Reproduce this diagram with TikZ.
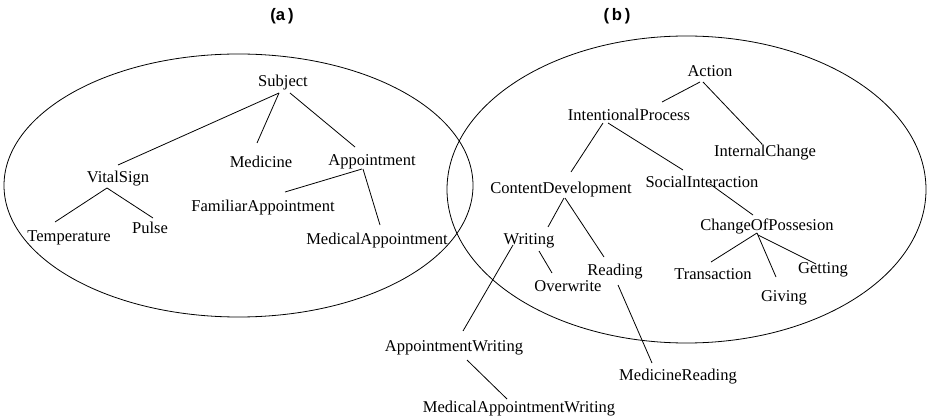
\documentclass[tikz,border=0pt]{standalone}
\usepackage{fontspec}
\setmainfont{Liberation Serif}
\newfontfamily\titlefont{Liberation Sans}
\begin{document}
\begin{tikzpicture}[x=0.75pt,y=-0.75pt,
  concept/.style={inner sep=0pt,font=\fontsize{12.4}{14}\selectfont,text height=8pt,text depth=0pt},
  paneltitle/.style={inner sep=0pt,font=\titlefont\bfseries\fontsize{12.5}{14}\selectfont},
  edge/.style={line width=0.6pt},
  areaoutline/.style={line width=0.6pt}]
\useasboundingbox (0,0) rectangle (931,420);

% panel titles
\node[paneltitle] (ta) at (282,16) {(a\,)};
\node[paneltitle] (tb) at (617,16) {(\,b\,)};

% the two overlapping areas
\draw[areaoutline] (238.5,185.5) ellipse [x radius=234.5, y radius=131.5];
\draw[areaoutline] (686.5,189.5) ellipse [x radius=239.5, y radius=153.5];

% hierarchy (a)
\node[concept] (subject)  at (283,81)  {Subject};
\node[concept] (vital)    at (118,177) {VitalSign};
\node[concept] (medicine) at (261,162) {Medicine};
\node[concept] (appt)     at (372,160) {Appointment};
\node[concept] (famappt)  at (263,206) {FamiliarAppointment};
\node[concept] (medappt)  at (377,239) {MedicalAppointment};
\node[concept] (temp)     at (69,236)  {Temperature};
\node[concept] (pulse)    at (150,228) {Pulse};

% hierarchy (b)
\node[concept] (action)   at (710,71)  {Action};
\node[concept] (intproc)  at (629,115) {IntentionalProcess};
\node[concept] (intchg)   at (765,151) {InternalChange};
\node[concept] (content)  at (561,188) {ContentDevelopment};
\node[concept] (social)   at (702,182) {SocialInteraction};
\node[concept] (possess)  at (767,225) {ChangeOfPossesion};
\node[concept] (writing)  at (529,239) {Writing};
\node[concept] (reading)  at (615,270) {Reading};
\node[concept] (overw)    at (568,286) {Overwrite};
\node[concept] (trans)    at (713,274) {Transaction};
\node[concept] (getting)  at (823,268) {Getting};
\node[concept] (giving)   at (784,296) {Giving};

% concepts outside both areas
\node[concept] (apptw)    at (454,346) {AppointmentWriting};
\node[concept] (medread)  at (678,375) {MedicineReading};
\node[concept] (medapptw) at (519,407) {MedicalAppointmentWriting};

% links (a)
\draw[edge] ([shift={(-4,12)}]subject.center) -- ([shift={(0,-12)}]vital.center);
\draw[edge] ([shift={(-4,12)}]subject.center) -- ([shift={(-4,-19)}]medicine.center);
\draw[edge] ([shift={(7,12)}]subject.center) -- ([shift={(-17,-13)}]appt.center);
\draw[edge] ([shift={(-10,9)}]appt.center) -- ([shift={(22,-14)}]famappt.center);
\draw[edge] ([shift={(-9,9)}]appt.center) -- ([shift={(3,-14)}]medappt.center);
\draw[edge] ([shift={(-11,11)}]vital.center) -- ([shift={(-14,-14)}]temp.center);
\draw[edge] ([shift={(-11,11)}]vital.center) -- ([shift={(3,-10)}]pulse.center);

% links (b)
\draw[edge] ([shift={(-10,11)}]action.center) -- ([shift={(33,-13)}]intproc.center);
\draw[edge] ([shift={(-7,11)}]action.center) -- ([shift={(-3,-7)}]intchg.center);
\draw[edge] ([shift={(-26,8)}]intproc.center) -- ([shift={(10,-16)}]content.center);
\draw[edge] ([shift={(-21,8)}]intproc.center) -- ([shift={(-19,-12)}]social.center);
\draw[edge] ([shift={(8,2)}]social.center) -- ([shift={(-14,-10)}]possess.center);
\draw[edge] ([shift={(-10,8)}]possess.center) -- ([shift={(-2,-12)}]trans.center);
\draw[edge] ([shift={(-10,8)}]possess.center) -- ([shift={(-8,-19)}]giving.center);
\draw[edge] ([shift={(-9,10)}]possess.center) -- ([shift={(-7,-4)}]getting.center);
\draw[edge] ([shift={(3,10)}]content.center) -- ([shift={(19,-12)}]writing.center);
\draw[edge] ([shift={(4,10)}]content.center) -- ([shift={(-11,-13)}]reading.center);
\draw[edge] ([shift={(10,12)}]writing.center) -- ([shift={(-16,-13)}]overw.center);

% links leaving the areas
\draw[edge] ([shift={(-16,6)}]writing.center) -- ([shift={(9,-15)}]apptw.center);
\draw[edge] ([shift={(3,15)}]reading.center) -- ([shift={(-26,-12)}]medread.center);
\draw[edge] ([shift={(13,14)}]apptw.center) -- ([shift={(-12,-8)}]medapptw.center);
\end{tikzpicture}
\end{document}
